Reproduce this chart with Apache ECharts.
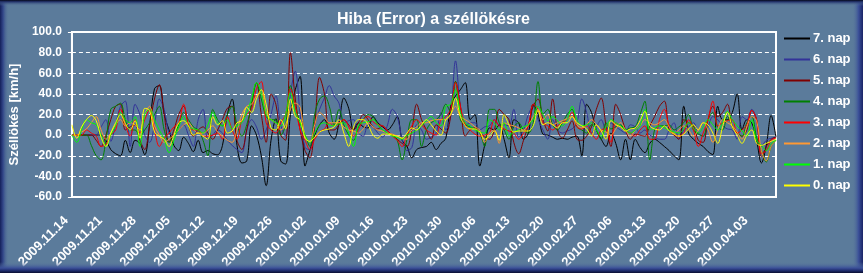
<!DOCTYPE html>
<html>
<head>
<meta charset="utf-8">
<script src="https://cdn.jsdelivr.net/npm/echarts@6/dist/echarts.min.js"></script>
<style>
html,body{margin:0;padding:0;background:#5b7b9b;}
#chart{width:863px;height:273px;}
</style>
</head>
<body>
<div id="chart"></div>
<script>
// Categories: one per day from 2009.11.14 (146 days)
const START_DATE = [2009, 11, 14];
const DAY_COUNT = 146;
const DATES = [];
for (let i = 0; i < DAY_COUNT; i++) {
  const d = new Date(Date.UTC(START_DATE[0], START_DATE[1] - 1, START_DATE[2]) + i * 86400000);
  const mm = String(d.getUTCMonth() + 1).padStart(2, '0');
  const dd = String(d.getUTCDate()).padStart(2, '0');
  DATES.push(d.getUTCFullYear() + '.' + mm + '.' + dd);
}

const SERIES_NAMES = ['7. nap', '6. nap', '5. nap', '4. nap', '3. nap', '2. nap', '1. nap', '0. nap'];
const SERIES_COLORS = ['#000000', '#333399', '#800000', '#008000', '#ff0000', '#ff9933', '#00ff00', '#ffff00'];

const NAP7 = [0,0,0,0,0,0,0,-5,-14,-18,-20,-5,-17,-5,-8,-19,10,45,48,20,5,-10,-15,-2,-8,-16,-5,-17,-15,-18,-19,-10,20,35,-10,-27,-25,9,0,-20,-49,-5,16,-25,-28,20,44,57,-30,-15,
  0,10,15,2,-4,12,36,26,5,12,8,7,18,12,8,5,10,18,-5,-11,-22,-14,-12,-11,-7,-14,-8,-3,28,38,44,51,15,20,-30,-10,7,5,10,-4,-22,15,12,-4,2,30,20,1,0,
  -2,-4,-3,-4,-2,-1,-20,30,22,5,-4,-11,2,-8,-24,-4,-24,-4,-12,-17,-8,-4,-7,-11,-15,-20,-24,28,2,-4,-8,-11,-16,-19,28,15,15,22,40,5,15,12,-5,-27,-10,19,-2];
const NAP6 = [0,0,0,0,0,0,8,15,-6,10,28,33,-11,30,20,0,-7,10,35,25,2,0,5,10,0,-11,15,25,-4,0,5,2,-5,-10,-14,-17,5,15,8,-4,5,20,38,10,-1,40,62,20,-12,-14,
  10,25,36,48,38,31,12,14,15,2,-1,10,8,2,-2,10,25,18,-4,-15,-12,10,5,-4,-2,2,22,5,20,72,28,9,12,12,5,8,9,15,10,10,9,25,-2,5,20,28,15,5,-4,
  15,5,2,4,6,12,35,22,2,8,15,5,12,8,5,2,10,8,2,5,0,-2,-4,-4,5,12,-4,5,8,12,2,-1,8,18,15,9,6,5,-4,18,15,25,15,-11,-5,-3,-2];
const NAP5 = [0,0,0,0,0,-5,-11,0,15,28,30,5,8,10,-5,-14,10,35,49,20,-7,5,20,28,10,-1,5,8,2,-4,5,15,26,28,-5,-14,5,30,51,20,-7,40,30,0,-5,80,35,5,-15,-22,
  10,56,40,5,5,10,15,10,5,12,20,15,8,6,9,4,0,-4,-8,-11,5,30,15,5,-4,10,6,2,18,52,28,-1,5,7,3,-2,-4,5,25,20,15,-7,-18,-5,10,28,35,15,4,
  35,5,-3,5,14,-4,-5,-1,8,25,36,9,-11,30,20,5,-4,1,0,-1,9,18,28,33,5,0,-4,15,12,9,-5,-7,15,28,18,22,30,8,2,-1,5,24,15,-21,-11,-4,-2];
const NAP4 = [0,0,0,0,-10,-20,-24,-5,25,28,31,15,5,5,-1,5,12,20,28,5,-7,0,10,22,15,8,5,-5,-20,25,15,9,20,28,10,-1,10,30,51,35,18,15,15,0,10,48,28,12,0,-11,
  20,35,38,28,10,25,10,0,-5,8,15,20,18,10,5,2,0,-5,-24,-4,15,15,-11,5,12,15,20,30,22,52,15,10,8,6,2,-11,25,25,12,5,-4,8,12,5,2,12,52,20,25,
  10,5,12,20,25,8,5,2,10,5,-4,12,6,8,10,5,7,8,20,33,-24,5,9,9,10,5,8,12,20,5,1,-1,15,22,8,5,18,9,3,-1,12,18,-2,-15,-26,-11,-5];
const NAP3 = [0,0,0,5,2,-1,-11,-9,0,5,25,10,-1,15,2,15,25,5,-11,-3,2,8,12,30,10,5,5,-1,-1,0,2,-4,18,5,-4,15,20,25,45,52,12,5,2,12,20,45,28,5,-5,-14,
  -4,3,6,12,9,12,15,8,-1,5,15,18,13,10,9,4,-1,-5,-11,0,9,15,10,5,2,0,15,18,25,51,28,10,5,1,-1,0,2,15,9,6,4,2,-4,2,9,30,25,12,9,
  5,9,12,15,22,8,6,9,2,-4,5,6,-7,12,8,4,2,-1,5,9,-4,-4,15,25,9,1,-1,2,15,5,-11,2,15,33,9,12,14,15,2,5,10,24,15,-18,-15,-5,-3];
const NAP2 = [0,0,3,6,12,18,5,-4,2,10,15,9,12,10,5,20,28,9,0,-7,-4,0,5,10,12,6,2,2,5,9,3,-1,-5,-7,5,20,28,30,38,41,22,15,12,5,10,25,31,27,-1,-7,
  10,22,18,12,12,12,8,5,4,2,6,12,8,5,4,2,1,-1,-3,-4,5,8,12,12,14,15,15,15,20,28,18,15,12,8,5,-7,2,5,-8,12,10,9,7,5,10,18,25,15,20,
  10,12,14,16,18,10,7,10,15,10,5,3,0,6,12,5,-1,5,9,15,12,10,12,15,8,2,5,9,5,-1,5,12,5,-7,5,15,12,9,3,-4,8,18,14,-15,-25,-11,-5];
const NAP1 = [0,-7,5,15,12,10,0,-11,0,9,22,15,12,18,-11,20,25,15,5,-4,-17,-5,8,18,9,6,5,2,10,22,12,9,15,6,9,12,22,35,51,41,20,15,12,9,20,41,22,12,0,-7,
  2,10,12,10,9,11,12,2,-11,10,12,13,15,10,5,2,-1,-2,-4,0,2,5,9,14,18,12,9,28,30,44,22,12,9,5,3,2,15,12,5,12,-1,3,5,8,10,15,28,20,14,
  18,14,9,15,28,15,9,10,12,5,-1,8,15,12,9,5,2,5,9,25,5,7,9,7,5,3,2,6,12,7,2,8,15,10,5,12,23,15,9,4,-1,15,-5,-10,-15,-8,-5];
const NAP0 = [10,-3,8,15,19,14,-2,-11,2,12,20,11,5,14,-3,26,24,3,-1,-4,-11,0,12,14,9,0,2,-1,-4,18,10,14,2,4,12,14,27,22,35,44,30,7,5,15,6,35,18,15,-3,-6,
  -2,3,5,6,8,15,2,-11,8,15,15,10,0,-3,1,1,0,-1,-3,2,7,5,10,15,10,4,0,15,20,36,18,9,6,6,3,-4,-1,4,-5,20,10,3,4,4,4,9,24,10,12,
  10,7,12,12,18,12,9,6,-1,10,4,-4,14,10,8,4,6,7,14,23,9,6,5,9,4,1,-1,1,6,10,5,12,10,2,-8,8,22,8,0,-8,0,5,-8,-10,-8,-6,-4];

const SERIES_VALUES = [NAP7, NAP6, NAP5, NAP4, NAP3, NAP2, NAP1, NAP0];

const Y_MIN = -60, Y_MAX = 100, Y_STEP = 20;

const FONT = 'Liberation Sans, Arial, sans-serif';
const BG = '#5b7b9b';

const chart = echarts.init(document.getElementById('chart'), null, {renderer: 'canvas'});

const dashColors = [];
const zeroColors = [];
for (let v = Y_MIN; v <= Y_MAX; v += Y_STEP) {
  dashColors.push(v === 0 ? 'rgba(0,0,0,0)' : '#ffffff');
  zeroColors.push(v === 0 ? '#c8c8c8' : 'rgba(0,0,0,0)');
}

const option = {
  backgroundColor: BG,
  animation: false,
  title: {
    text: 'Hiba (Error) a széllökésre',
    left: 337,
    top: 12,
    padding: 0,
    textStyle: {color: '#ffffff', fontSize: 16, fontWeight: 'bold', fontFamily: FONT}
  },
  legend: {
    orient: 'vertical',
    left: 784,
    top: 32,
    padding: 0,
    icon: 'rect',
    itemWidth: 26,
    itemHeight: 2,
    itemGap: 8,
    selectedMode: false,
    data: SERIES_NAMES.map(function (n, i) {
      return {name: n, itemStyle: {color: SERIES_COLORS[i], borderWidth: 0}};
    }),
    textStyle: {color: '#ffffff', fontSize: 13, fontWeight: 'bold', fontFamily: FONT, padding: [0, 0, 0, -2]}
  },
  grid: {
    left: 66, right: 87, top: 32, bottom: 76,
    show: true, borderColor: '#ffffff', borderWidth: 2,
    backgroundColor: 'rgba(0,0,0,0)'
  },
  xAxis: {
    type: 'category',
    data: DATES,
    boundaryGap: false,
    axisLine: {show: false, onZero: false},
    axisTick: {show: false},
    splitLine: {show: false},
    axisLabel: {
      interval: 6,
      rotate: 45,
      margin: 16,
      padding: [0, 8, 0, 0],
      color: '#ffffff',
      fontSize: 13,
      fontWeight: 'bold',
      fontFamily: FONT
    }
  },
  yAxis: [{
    type: 'value',
    min: Y_MIN, max: Y_MAX, interval: Y_STEP,
    name: 'Széllökés [km/h]',
    nameLocation: 'middle',
    nameRotate: 90,
    nameGap: 46,
    nameTextStyle: {color: '#ffffff', fontSize: 13, fontWeight: 'bold', fontFamily: FONT},
    axisLine: {show: true, lineStyle: {color: '#ffffff', width: 2}},
    axisTick: {show: true, length: 4, lineStyle: {color: '#ffffff', width: 1}},
    axisLabel: {
      color: '#ffffff', fontSize: 12, fontWeight: 'bold', fontFamily: FONT, margin: 10,
      formatter: function (v) { return v.toFixed(1); }
    },
    splitLine: {show: true, lineStyle: {color: dashColors, width: 1, type: [4, 3]}}
  }, {
    type: 'value',
    min: Y_MIN, max: Y_MAX, interval: Y_STEP,
    position: 'left',
    axisLine: {show: false},
    axisTick: {show: false},
    axisLabel: {show: false},
    splitLine: {show: true, lineStyle: {color: zeroColors, width: 1, type: 'solid'}}
  }],
  graphic: [
    {type: 'rect', z: 100, silent: true, shape: {x: 0, y: 0, width: 9, height: 273},
      style: {fill: new echarts.graphic.LinearGradient(0, 0, 1, 0, [
        {offset: 0, color: '#14205a'}, {offset: 0.35, color: '#33488a'}, {offset: 1, color: 'rgba(91,123,155,0)'}])}},
    {type: 'rect', z: 100, silent: true, shape: {x: 852, y: 0, width: 11, height: 273},
      style: {fill: new echarts.graphic.LinearGradient(0, 0, 1, 0, [
        {offset: 0, color: 'rgba(91,123,155,0)'}, {offset: 0.6, color: '#3a4f98'}, {offset: 1, color: '#1a2466'}])}},
    {type: 'rect', z: 100, silent: true, shape: {x: 0, y: 0, width: 863, height: 6},
      style: {fill: new echarts.graphic.LinearGradient(0, 0, 0, 1, [
        {offset: 0, color: '#05081a'}, {offset: 0.3, color: '#24346e'}, {offset: 1, color: 'rgba(91,123,155,0)'}])}},
    {type: 'rect', z: 100, silent: true, shape: {x: 0, y: 262, width: 863, height: 11},
      style: {fill: new echarts.graphic.LinearGradient(0, 0, 0, 1, [
        {offset: 0, color: 'rgba(91,123,155,0)'}, {offset: 0.55, color: '#3a4f98'}, {offset: 0.8, color: '#1c2868'}, {offset: 1, color: '#0a0f30'}])}}
  ],
  series: SERIES_NAMES.map(function (name, i) {
    return {
      name: name,
      type: 'line',
      data: SERIES_VALUES[i],
      showSymbol: false,
      symbol: 'none',
      smooth: 0.35,
      color: SERIES_COLORS[i],
      itemStyle: {color: SERIES_COLORS[i]},
      lineStyle: {width: 1, color: SERIES_COLORS[i]},
      emphasis: {disabled: true},
      silent: true
    };
  })
};

chart.setOption(option);
</script>
</body>
</html>
